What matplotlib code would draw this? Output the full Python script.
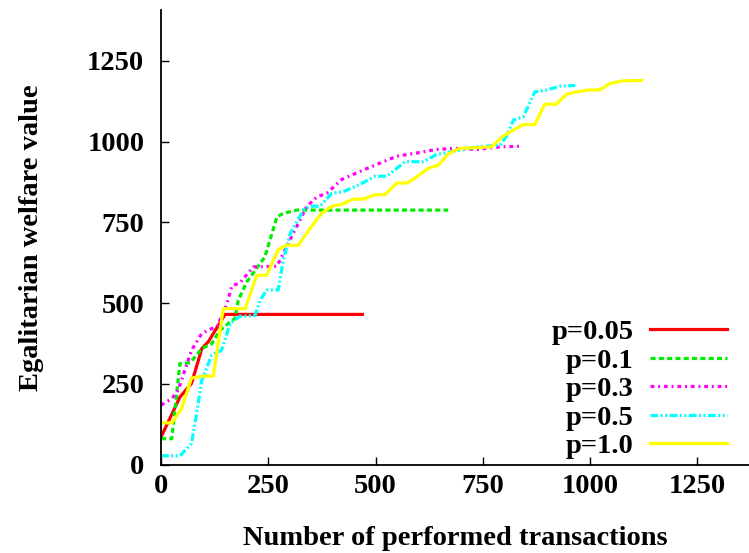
"""
egalitarian welfare vs number of transactions
"""
import matplotlib
matplotlib.use("Agg")
import matplotlib.pyplot as plt

# p=0.05
x_p005 = [0, 44, 71, 95, 110, 141, 149, 469]
y_p005 = [85, 209, 251, 359, 380, 447, 465, 465]

# p=0.1
x_p01 = [0, 25, 44, 68, 95, 118, 137, 161, 172, 180, 200, 242, 270, 285, 316, 669]
y_p01 = [80, 80, 313, 315, 359, 374, 415, 442, 452, 509, 566, 643, 767, 778, 788, 788]

# p=0.3
x_p03 = [0, 25, 40, 71, 95, 118, 130, 153, 165, 184, 215, 270, 285, 308, 339, 363,
         386, 421, 471, 518, 549, 596, 642, 681, 736, 790, 840]
y_p03 = [184, 204, 230, 354, 406, 421, 426, 495, 553, 563, 612, 614, 654, 716, 798, 829,
         840, 883, 912, 938, 955, 965, 976, 979, 976, 984, 986]

# p=0.5
x_p05 = [0, 44, 71, 83, 95, 118, 141, 161, 184, 219, 231, 246, 273, 285, 301, 332,
         347, 370, 398, 425, 468, 499, 526, 569, 611, 642, 673, 736, 790, 805, 821,
         844, 871, 898, 930, 965]
y_p05 = [27, 27, 65, 158, 261, 339, 354, 437, 459, 462, 509, 540, 541, 633, 716, 788,
         800, 800, 840, 845, 871, 893, 893, 938, 938, 960, 968, 984, 989, 1017, 1067,
         1077, 1154, 1160, 1172, 1174]

# p=1.0
x_p10 = [0, 25, 48, 71, 99, 122, 145, 196, 223, 246, 273, 292, 320, 347, 374, 398,
         421, 448, 471, 499, 522, 549, 573, 596, 623, 646, 669, 695, 770, 797, 821,
         844, 871, 894, 921, 945, 968, 995, 1022, 1046, 1073, 1120]
y_p10 = [129, 129, 173, 268, 274, 274, 483, 483, 586, 586, 666, 679, 679, 731, 778, 800,
         806, 822, 822, 836, 836, 872, 872, 891, 918, 927, 962, 979, 984, 1017, 1036,
         1053, 1053, 1116, 1116, 1147, 1154, 1160, 1160, 1180, 1188, 1190]

labels = ["p=0.05", "p=0.1", "p=0.3", "p=0.5", "p=1.0"]
xticks = [0, 250, 500, 750, 1000, 1250]
yticks = [0, 250, 500, 750, 1000, 1250]

plt.rcParams['font.family'] = ['Liberation Serif', 'DejaVu Serif']
plt.rcParams['font.weight'] = 'bold'

fig = plt.figure(figsize=(7.49, 5.53), dpi=100)
ax = fig.add_axes([0.215, 0.160, 0.785, 0.822])

lw = 2.3
ax.plot(x_p005, y_p005, color='#ff0000', lw=lw, label=labels[0])
ax.plot(x_p01, y_p01, color='#00ee00', lw=lw, dashes=(1.6, 1.0), label=labels[1])
ax.plot(x_p03, y_p03, color='#ff00ff', lw=lw, dashes=(1.2, 1.2, 0.6, 1.2), label=labels[2])
ax.plot(x_p05, y_p05, color='#00ffff', lw=lw, dashes=(2.4, 0.8, 0.6, 0.8, 0.6, 0.8), label=labels[3])
ax.plot(x_p10, y_p10, color='#ffff00', lw=lw, label=labels[4])

ax.set_xlim(0, 1370)
ax.set_ylim(0, 1408)
ax.set_xticks(xticks)
ax.set_yticks(yticks)
ax.spines['top'].set_visible(False)
ax.spines['right'].set_visible(False)
for s in ['left', 'bottom']:
    ax.spines[s].set_linewidth(1.3)
fs = 20.5
ax.tick_params(direction='in', length=6, width=1.0, labelsize=fs)
ax.tick_params(axis='y', pad=12)
ax.tick_params(axis='x', pad=7)

ax.set_xlabel("Number of performed transactions", fontsize=fs, fontweight='bold', labelpad=19)
ax.set_ylabel("Egalitarian welfare value", fontsize=fs, fontweight='bold', labelpad=31)

leg = ax.legend(loc='lower right', bbox_to_anchor=(0.963, 0.012), markerfirst=False,
                frameon=False, fontsize=fs, handlelength=2.7, handletextpad=0.6,
                labelspacing=0.09, borderpad=0.0, borderaxespad=0.0)

fig.savefig("out.png", dpi=100)
